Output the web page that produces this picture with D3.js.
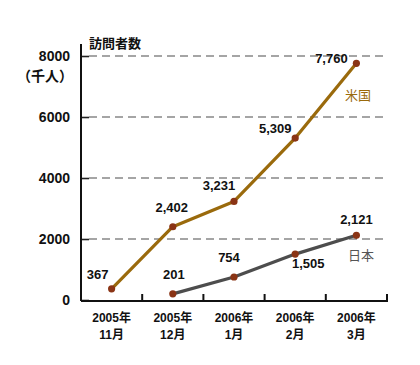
<!DOCTYPE html>
<html>
<head>
<meta charset="utf-8">
<script src="https://cdn.jsdelivr.net/npm/d3@7"></script>
<style>
  body { margin: 0; background: #fff; }
  text { font-family: "Liberation Sans", "Noto Sans CJK JP", sans-serif; }
</style>
</head>
<body>
<div id="chart"></div>
<script>
// months on the x axis (two lines each)
const months = [["2005年", "11月"], ["2005年", "12月"], ["2006年", "1月"], ["2006年", "2月"], ["2006年", "3月"]];
// visitors, thousands
const usValues = [367, 2402, 3231, 5309, 7760];
const jpValues = [null, 201, 754, 1505, 2121];
const yTicks = [0, 2000, 4000, 6000, 8000];

document.addEventListener("DOMContentLoaded", drawChart);

function drawChart() {
  const width = 420, height = 365;
  const left = 81, right = 387, top = 56, bottom = 300;

  const svg = d3.select("#chart").append("svg")
    .attr("width", width)
    .attr("height", height);

  const x = d3.scaleBand()
    .domain(d3.range(months.length))
    .range([left, right]);

  const y = d3.scaleLinear()
    .domain([0, 8000])
    .range([bottom, top]);

  // dashed grid lines
  svg.append("g").selectAll("line")
    .data(yTicks.filter(d => d > 0))
    .enter().append("line")
    .attr("x1", left + 8).attr("x2", right)
    .attr("y1", d => y(d)).attr("y2", d => y(d))
    .attr("stroke", "#888")
    .attr("stroke-width", 1.6)
    .attr("stroke-dasharray", "8,5");

  // y axis: line + little solid ticks + labels
  const yAxis = svg.append("g")
    .attr("transform", `translate(${left},0)`)
    .call(d3.axisRight(y).tickValues(yTicks).tickSize(8).tickFormat(""));
  yAxis.select(".domain").remove();
  yAxis.selectAll("line").attr("stroke", "#222").attr("stroke-width", 1.6);
  svg.append("line")
    .attr("x1", left).attr("x2", left)
    .attr("y1", 44).attr("y2", bottom + 1)
    .attr("stroke", "#111").attr("stroke-width", 2);

  svg.append("g").selectAll("text")
    .data(yTicks)
    .enter().append("text")
    .attr("x", 70)
    .attr("y", d => y(d) + 5)
    .attr("text-anchor", "end")
    .style("font-size", "14px")
    .style("font-weight", "bold")
    .style("fill", "#111")
    .text(d => d);

  svg.append("text")
    .attr("x", 73).attr("y", 81)
    .attr("text-anchor", "end")
    .style("font-family", "Noto Sans CJK JP")
    .style("font-size", "14px")
    .style("font-weight", "bold")
    .style("fill", "#111")
    .text("（千人）");

  svg.append("text")
    .attr("x", 89).attr("y", 48)
    .style("font-family", "Noto Sans CJK JP")
    .style("font-size", "13px")
    .style("font-weight", "bold")
    .style("fill", "#111")
    .text("訪問者数");

  // x axis with inward ticks at band edges
  svg.append("line")
    .attr("x1", left).attr("x2", right + 1)
    .attr("y1", bottom + 1).attr("y2", bottom + 1)
    .attr("stroke", "#111").attr("stroke-width", 2);
  svg.append("g").selectAll("line")
    .data(d3.range(months.length))
    .enter().append("line")
    .attr("x1", i => x(i) + x.bandwidth()).attr("x2", i => x(i) + x.bandwidth())
    .attr("y1", bottom - 6).attr("y2", bottom + 1)
    .attr("stroke", "#111").attr("stroke-width", 2);

  const xLabels = svg.append("g").selectAll("text")
    .data(months)
    .enter().append("text")
    .attr("text-anchor", "middle")
    .style("font-size", "12px")
    .style("font-weight", "bold")
    .style("fill", "#111");
  xLabels.append("tspan")
    .attr("x", (d, i) => x(i) + x.bandwidth() / 2)
    .attr("y", 322)
    .text(d => d[0]);
  xLabels.append("tspan")
    .attr("x", (d, i) => x(i) + x.bandwidth() / 2)
    .attr("y", 339)
    .text(d => d[1]);

  const cx = i => x(i) + x.bandwidth() / 2;
  const line = d3.line()
    .defined(d => d != null)
    .x((d, i) => cx(i))
    .y(d => y(d));

  const series = [
    {values: usValues, color: "#9a6a0c", name: "米国", nameColor: "#9a6a0c", nx: 345, ny: 100,
     offsets: [[-14, -10], [-1, -15], [-15, -11], [-20, -5], [-25, 0]]},
    {values: jpValues, color: "#4d4d4d", name: "日本", nameColor: "#555", nx: 348, ny: 260,
     offsets: [null, [1, -15], [-5, -15], [13, 14], [0, -11]]}
  ];

  series.forEach(s => {
    svg.append("path")
      .datum(s.values)
      .attr("d", line)
      .attr("fill", "none")
      .attr("stroke", s.color)
      .attr("stroke-width", 3.2)
      .attr("stroke-linejoin", "round");

    const pts = s.values.map((v, i) => ({v, i})).filter(d => d.v != null);

    svg.append("g").selectAll("circle")
      .data(pts)
      .enter().append("circle")
      .attr("cx", d => cx(d.i))
      .attr("cy", d => y(d.v))
      .attr("r", 3.6)
      .attr("fill", "#8a3415");

    svg.append("g").selectAll("text")
      .data(pts)
      .enter().append("text")
      .attr("x", d => cx(d.i) + s.offsets[d.i][0])
      .attr("y", d => y(d.v) + s.offsets[d.i][1])
      .attr("text-anchor", "middle")
      .style("font-size", "13px")
      .style("font-weight", "bold")
      .style("fill", "#111")
      .text(d => d3.format(",")(d.v));

    svg.append("text")
      .attr("x", s.nx).attr("y", s.ny)
      .style("font-family", "Noto Sans CJK JP")
      .style("font-size", "13px")
      .style("fill", s.nameColor)
      .text(s.name);
  });
}
</script>
</body>
</html>
